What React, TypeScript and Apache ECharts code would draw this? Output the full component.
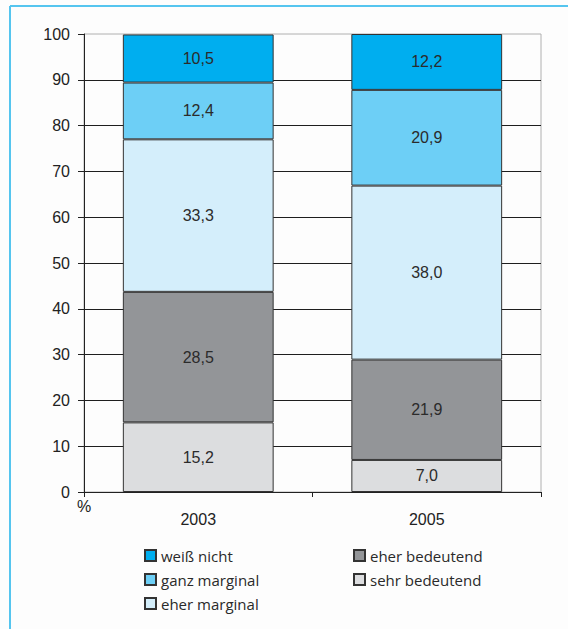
import React, { useEffect, useRef } from "react";
import * as echarts from "echarts";

const years = ["2003", "2005"];
const sehrBedeutend = [15.2, 7.0];
const eherBedeutend = [28.5, 21.9];
const eherMarginal = [33.3, 38.0];
const ganzMarginal = [12.4, 20.9];
const weissNicht = [10.5, 12.2];

const legendLeft = ["weiß nicht", "ganz marginal", "eher marginal"];
const legendRight = ["eher bedeutend", "sehr bedeutend"];

const axisFont = "Liberation Sans, Arial, sans-serif";
const legendFont = "Open Sans, Noto Sans, sans-serif";

const fmt = (v: number) => v.toFixed(1).replace(".", ",");

function makeSeries(name: string, data: number[], color: string) {
  return {
    name,
    type: "bar",
    stack: "total",
    barWidth: "66%",
    data,
    itemStyle: { color, borderColor: "#333", borderWidth: 1 },
    label: {
      show: true,
      position: "inside",
      formatter: (p: any) => fmt(p.value),
      fontFamily: axisFont,
      fontSize: 16,
      color: "#2b2b2b",
    },
  };
}

export default function App() {
  const ref = useRef<HTMLDivElement>(null);

  useEffect(() => {
    document.body.style.margin = "0";
    const chart = echarts.init(ref.current!, null, { renderer: "svg" });
    chart.setOption({
      animation: false,
      backgroundColor: "#fdfdfd",
      grid: {
        left: 84,
        right: 27,
        top: 34,
        bottom: 137,
        show: true,
        borderColor: "#b0b0b0",
        borderWidth: 1,
      },
      xAxis: {
        type: "category",
        data: years,
        axisLine: { lineStyle: { color: "#222", width: 1 } },
        axisTick: { show: true, length: 5, lineStyle: { color: "#222" } },
        axisLabel: {
          margin: 19,
          fontFamily: axisFont,
          fontSize: 16,
          color: "#222",
        },
      },
      yAxis: {
        type: "value",
        min: 0,
        max: 100,
        interval: 10,
        name: "%",
        nameLocation: "start",
        nameGap: 6,
        nameTextStyle: { fontFamily: axisFont, fontSize: 16, color: "#222" },
        axisLine: { show: true, lineStyle: { color: "#222", width: 1 } },
        axisTick: { show: true, length: 6, lineStyle: { color: "#222" } },
        axisLabel: {
          margin: 14,
          fontFamily: axisFont,
          fontSize: 16,
          color: "#222",
        },
        splitLine: {
          show: true,
          showMaxLine: false,
          lineStyle: { color: "#1e1e1e", width: 1 },
        },
      },
      legend: [
        {
          data: legendLeft,
          orient: "vertical",
          left: 139,
          top: 543,
          icon: "rect",
          itemWidth: 11,
          itemHeight: 11,
          itemGap: 9,
          textStyle: { fontFamily: legendFont, fontSize: 15, color: "#2a2a2a" },
        },
        {
          data: legendRight,
          orient: "vertical",
          left: 348,
          top: 543,
          icon: "rect",
          itemWidth: 11,
          itemHeight: 11,
          itemGap: 9,
          textStyle: { fontFamily: legendFont, fontSize: 15, color: "#2a2a2a" },
        },
      ],
      graphic: [
        {
          type: "line",
          shape: { x1: 10, y1: 6, x2: 568, y2: 6 },
          style: { stroke: "#55c5ef", lineWidth: 2 },
        },
        {
          type: "line",
          shape: { x1: 10, y1: 6, x2: 10, y2: 629 },
          style: { stroke: "#55c5ef", lineWidth: 2 },
        },
      ],
      series: [
        makeSeries("sehr bedeutend", sehrBedeutend, "#dcdddf"),
        makeSeries("eher bedeutend", eherBedeutend, "#939598"),
        makeSeries("eher marginal", eherMarginal, "#d4eefb"),
        makeSeries("ganz marginal", ganzMarginal, "#6dcff6"),
        makeSeries("weiß nicht", weissNicht, "#00aeef"),
      ],
    });
    return () => chart.dispose();
  }, []);

  return <div ref={ref} style={{ width: 568, height: 629 }} />;
}
